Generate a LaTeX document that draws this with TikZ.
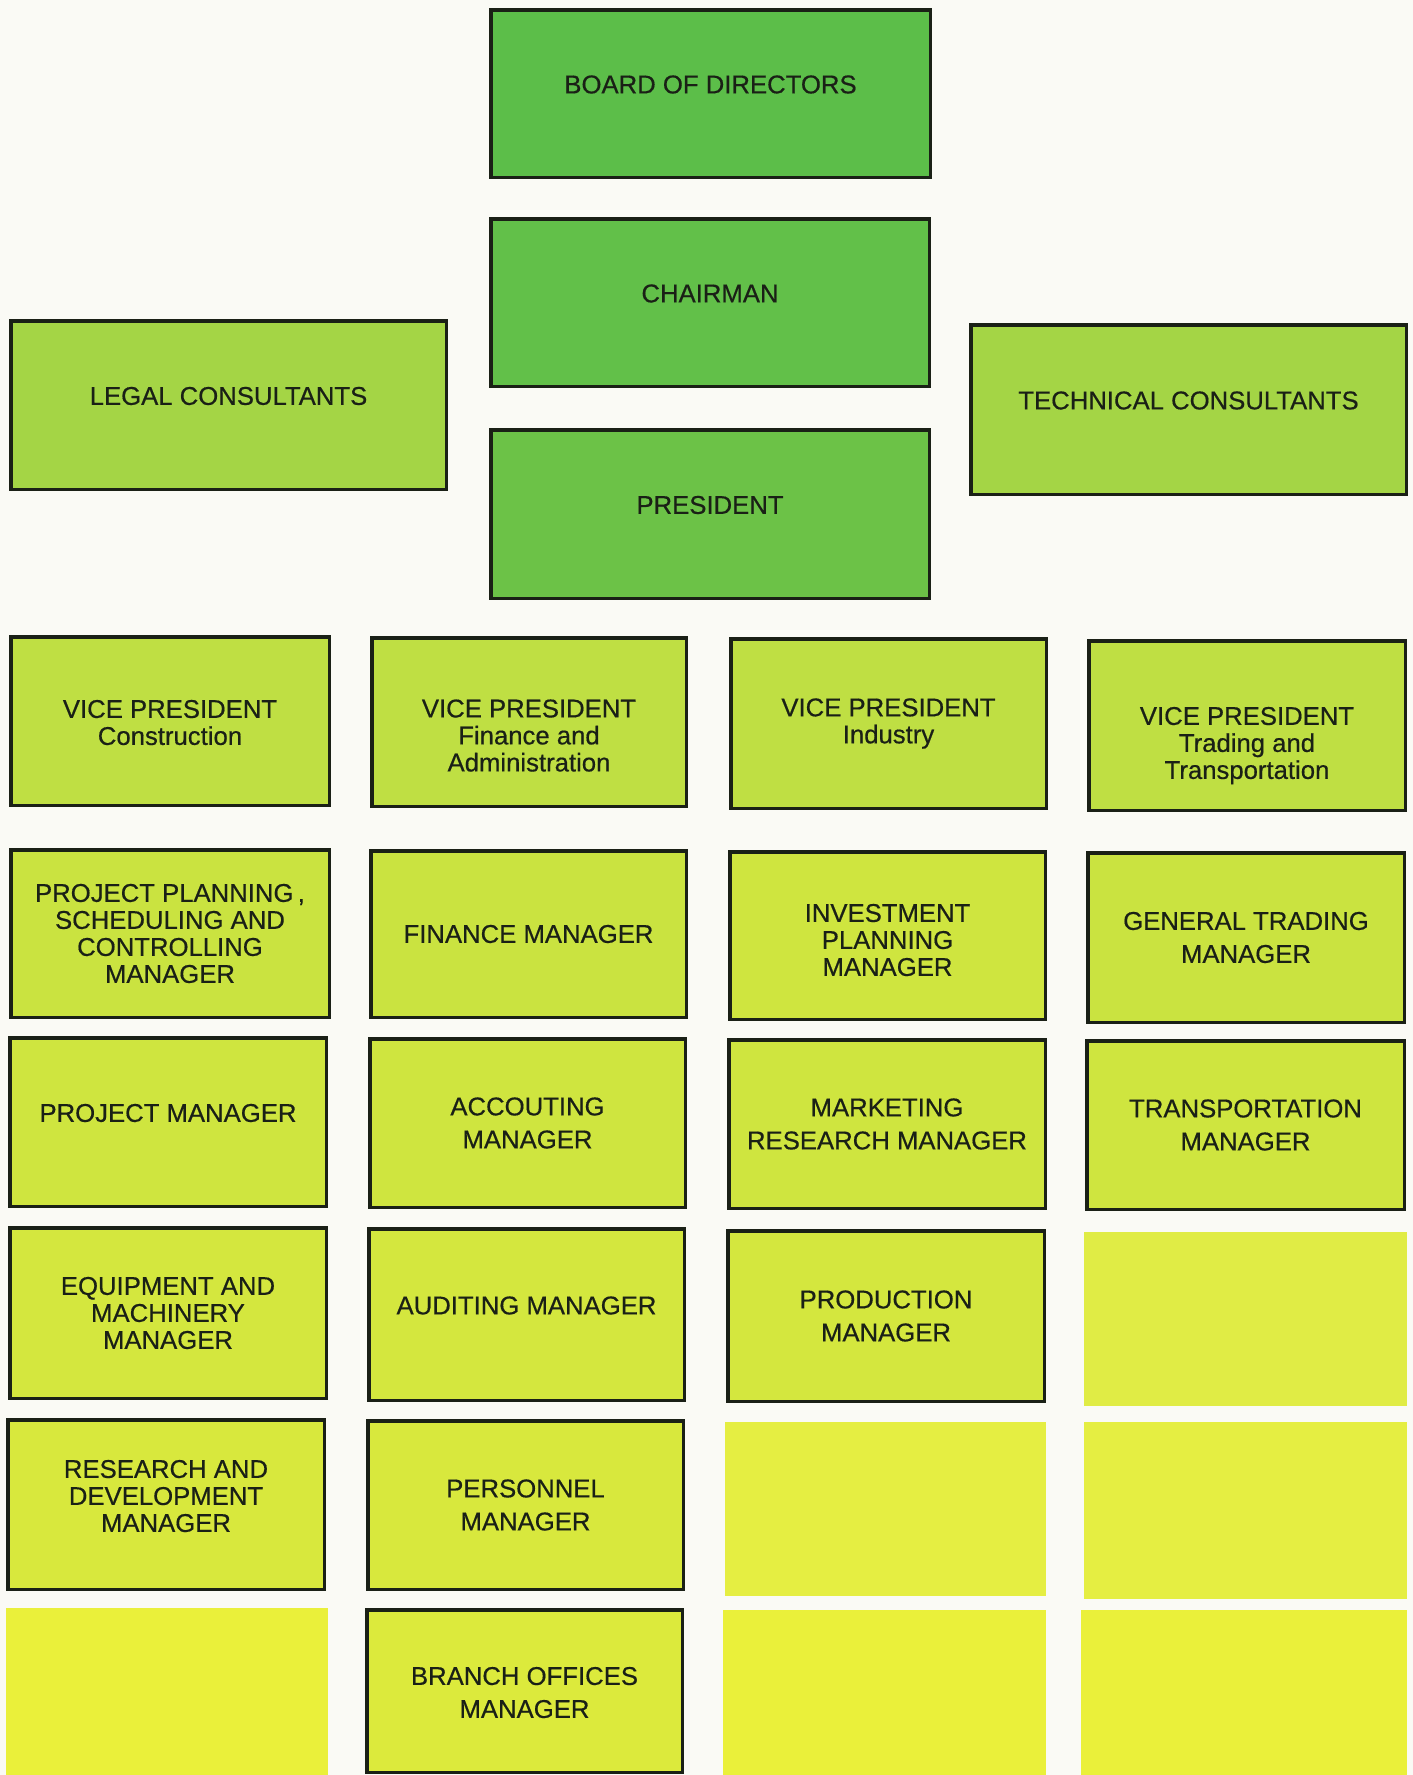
\documentclass[tikz,border=0pt]{standalone}
\usepackage{fontspec}
\setmainfont{Liberation Sans}
\newfontfamily\lblfam{Liberation Sans}[RawFeature={embolden=0.5}]
\definecolor{bg}{HTML}{FAFAF5}
\definecolor{ink}{HTML}{1A2016}
\definecolor{cBoard}{HTML}{5CBE49}
\definecolor{cChair}{HTML}{62C049}
\definecolor{cPres}{HTML}{6CC247}
\definecolor{cCons}{HTML}{A4D545}
\definecolor{cRa}{HTML}{BFDF43}
\definecolor{cRb}{HTML}{CAE340}
\definecolor{cRc}{HTML}{CFE53F}
\definecolor{cRd}{HTML}{D4E73E}
\definecolor{cRe}{HTML}{D8E83D}
\definecolor{cRf}{HTML}{DCEA3C}
\definecolor{cFd}{HTML}{E0EC45}
\definecolor{cFe}{HTML}{E5EE42}
\definecolor{cFf}{HTML}{EAF03A}
\newcommand{\lblfont}{\lblfam\fontsize{25.7bp}{27bp}\selectfont}
\newcommand{\upby}[1]{\raisebox{9bp}[\height][\depth]{#1}}
% \shiftby{dy}{lines}: move the text block by dy without changing the box
\newcommand{\shiftby}[2]{\raisebox{#1}[\height][\depth]{\begin{tabular}{@{}c@{}}#2\end{tabular}}}
% \bx{name}{x1}{y1}{x2}{y2}{colour}{text}
\newcommand{\bx}[7]{%
  \node[box, fill=#6, minimum width={(#4-#2-3.5)*1bp}, minimum height={(#5-#3-3.5)*1bp}]
    (#1) at ({(#2+#4)/2},{(#3+#5)/2}) {#7};}
% \fl{name}{x1}{y1}{x2}{y2}{colour}
\newcommand{\fl}[6]{%
  \node[filler, fill=#6, minimum width={(#4-#2)*1bp}, minimum height={(#5-#3)*1bp}]
    (#1) at ({(#2+#4)/2},{(#3+#5)/2}) {};}
\begin{document}
\begin{tikzpicture}[x=1bp,y=-1bp,
  box/.style={draw=ink, line width=3.5bp, align=center, inner sep=0pt, font=\lblfont, text=ink},
  filler/.style={draw=none, inner sep=0pt}]
\fill[bg] (0,0) rectangle (1413,1775);
\useasboundingbox (0,0) rectangle (1413,1775);

% top
\bx{board}{489}{8}{932}{179}{cBoard}{\upby{BOARD OF DIRECTORS}}
\bx{chair}{489}{217}{931}{388}{cChair}{\upby{CHAIRMAN}}
\bx{pres}{489}{428}{931}{600}{cPres}{\upby{PRESIDENT}}
\bx{legal}{9}{319}{448}{491}{cCons}{\upby{LEGAL CONSULTANTS}}
\bx{tech}{969}{323}{1408}{496}{cCons}{\upby{TECHNICAL CONSULTANTS}}

% row 1
\bx{vpa}{9}{635}{331}{807}{cRa}{\shiftby{-5bp}{VICE PRESIDENT\\Construction}}
\bx{vpb}{370}{636}{688}{808}{cRa}{\shiftby{-17bp}{VICE PRESIDENT\\Finance and\\Administration}}
\bx{vpc}{729}{637}{1048}{810}{cRa}{VICE PRESIDENT\\Industry}
\bx{vpd}{1087}{639}{1407}{812}{cRa}{\shiftby{-21bp}{VICE PRESIDENT\\Trading and\\Transportation}}

% row 2
\bx{ppm}{9}{848}{331}{1019}{cRb}{PROJECT PLANNING\,,\\SCHEDULING AND\\CONTROLLING\\MANAGER}
\bx{fin}{369}{849}{688}{1019}{cRb}{FINANCE MANAGER}
\bx{inv}{728}{850}{1047}{1021}{cRc}{\shiftby{-8bp}{INVESTMENT\\PLANNING\\MANAGER}}
\bx{gen}{1086}{851}{1406}{1024}{cRb}{GENERAL TRADING\\[6bp]MANAGER}

% row 3
\bx{proj}{8}{1036}{328}{1208}{cRc}{\upby{PROJECT MANAGER}}
\bx{acc}{368}{1037}{687}{1209}{cRc}{ACCOUTING\\[6bp]MANAGER}
\bx{mkt}{727}{1038}{1047}{1210}{cRc}{MARKETING\\[6bp]RESEARCH MANAGER}
\bx{trans}{1085}{1039}{1406}{1211}{cRc}{TRANSPORTATION\\[6bp]MANAGER}

% row 4
\bx{equip}{8}{1226}{328}{1400}{cRd}{EQUIPMENT AND\\MACHINERY\\MANAGER}
\bx{aud}{367}{1227}{686}{1402}{cRd}{\upby{AUDITING MANAGER}}
\bx{prod}{726}{1229}{1046}{1403}{cRd}{PRODUCTION\\[6bp]MANAGER}
\fl{fd}{1084}{1232}{1407}{1406}{cFd}

% row 5
\bx{rnd}{6}{1418}{326}{1591}{cRe}{\shiftby{5bp}{RESEARCH AND\\DEVELOPMENT\\MANAGER}}
\bx{pers}{366}{1419}{685}{1591}{cRe}{PERSONNEL\\[6bp]MANAGER}
\fl{fec}{725}{1422}{1046}{1596}{cFe}
\fl{fed}{1084}{1422}{1407}{1599}{cFe}

% row 6
\fl{ffa}{6}{1608}{328}{1775}{cFf}
\bx{branch}{365}{1608}{684}{1774}{cRf}{\shiftby{-5bp}{BRANCH OFFICES\\[6bp]MANAGER}}
\fl{ffc}{723}{1610}{1046}{1775}{cFf}
\fl{ffd}{1081}{1610}{1407}{1775}{cFf}
\end{tikzpicture}
\end{document}
